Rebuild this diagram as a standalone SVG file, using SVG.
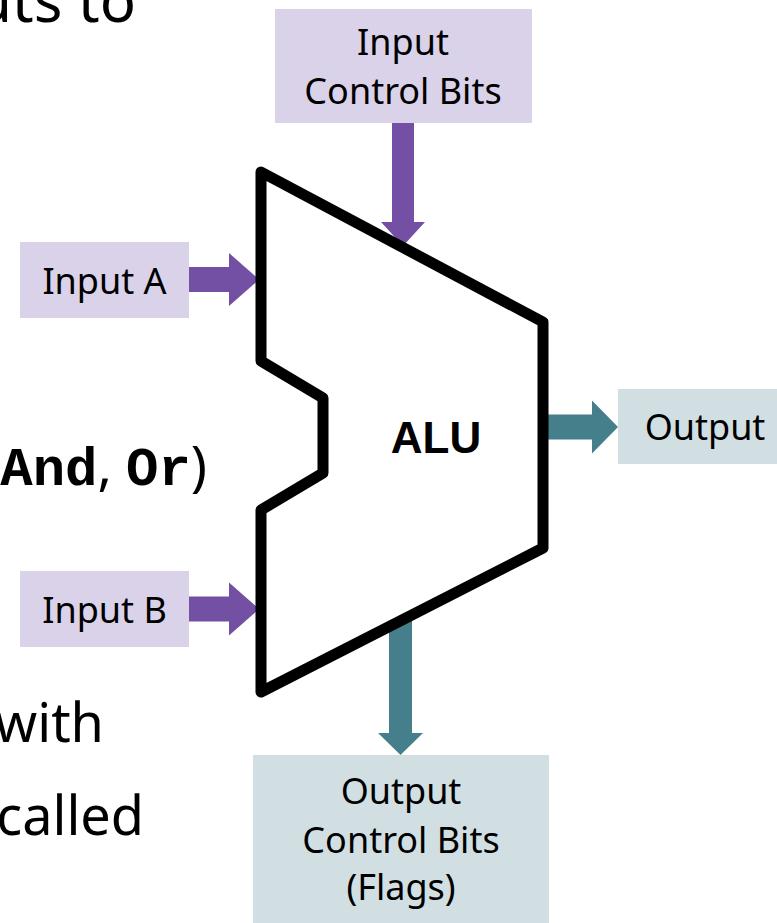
<svg xmlns="http://www.w3.org/2000/svg" width="777" height="923" viewBox="0 0 777 923">
  <style>
    .slide { font-family: "Noto Sans", "Open Sans", sans-serif; font-size: 54px; fill: #000; }
    .slide.big { font-size: 60px; }
    .mono { font-family: "Courier New", Courier, "Liberation Mono", "DejaVu Sans Mono", monospace; font-weight: bold; }
    .label { font-family: "Noto Sans", "Open Sans", sans-serif; font-size: 36px; fill: #000; text-anchor: middle; }
    .in-box { fill: #D9D2E8; }
    .out-box { fill: #D1DFE2; }
    .in-arrow { fill: #7350A3; }
    .out-arrow { fill: #457F8B; }
    .alu { fill: #fff; stroke: #000; stroke-width: 11; stroke-linejoin: round; }
    .alu-text { font-family: "Liberation Sans", Arial, sans-serif; font-size: 44px; font-weight: bold; text-anchor: middle; fill: #000; }
  </style>

  <!-- background slide text, clipped at the left edge -->
  <g id="slide-text">
    <text class="slide big" x="136" y="22" text-anchor="end">uts to</text>
    <text class="slide" x="207" y="485" text-anchor="end"><tspan class="mono">And</tspan>, <tspan class="mono">Or</tspan>)</text>
    <text class="slide" x="104" y="742" text-anchor="end">with</text>
    <text class="slide" x="144" y="835" text-anchor="end">called</text>
  </g>

  <!-- connectors (block arrows), drawn beneath the ALU outline -->
  <g id="connectors">
    <!-- Input Control Bits -> ALU -->
    <polygon class="in-arrow" points="392,123 414,123 414,222 425,222 403,246 381,222 392,222"/>
    <!-- Input A -> ALU -->
    <polygon class="in-arrow" points="189,267 229,267 229,253 259,279.5 229,306 229,292 189,292"/>
    <!-- Input B -> ALU -->
    <polygon class="in-arrow" points="189,596.5 229,596.5 229,582.5 259,609 229,635.5 229,621.5 189,621.5"/>
    <!-- ALU -> Output -->
    <polygon class="out-arrow" points="540,414.5 592,414.5 592,400.5 618,427 592,453.5 592,439.5 540,439.5"/>
    <!-- ALU -> Output Control Bits -->
    <polygon class="out-arrow" points="389,600 412,600 412,733 423,733 400.5,755 378,733 389,733"/>
  </g>

  <g id="alu">
    <path class="alu" d="M261,172 L543,322 L543,548 L261,692 L261,510 L323,473 L323,398 L261,361 Z"/>
    <text class="alu-text" x="436" y="453">ALU</text>
  </g>

  <g id="input-control-bits">
    <rect class="in-box" x="275" y="9" width="257" height="114"/>
    <text class="label" x="403" y="55">Input</text>
    <text class="label" x="403" y="104">Control Bits</text>
  </g>

  <g id="input-a">
    <rect class="in-box" x="20" y="242" width="169" height="76"/>
    <text class="label" x="104.5" y="294">Input A</text>
  </g>

  <g id="input-b">
    <rect class="in-box" x="20" y="571" width="169" height="76"/>
    <text class="label" x="104.5" y="623">Input B</text>
  </g>

  <g id="output">
    <rect class="out-box" x="618" y="389" width="159" height="75"/>
    <text class="label" x="705" y="440">Output</text>
  </g>

  <g id="output-control-bits">
    <rect class="out-box" x="253" y="755" width="296" height="168"/>
    <text class="label" x="401" y="804">Output</text>
    <text class="label" x="401" y="853">Control Bits</text>
    <text class="label" x="401" y="900">(Flags)</text>
  </g>
</svg>
